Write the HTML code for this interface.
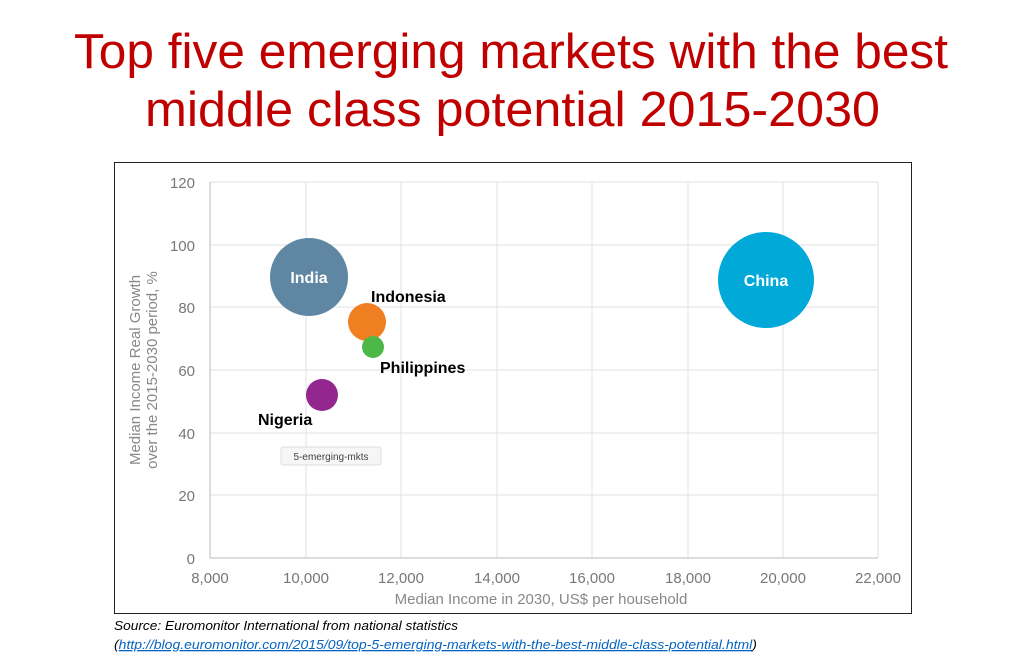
<!DOCTYPE html>
<html><head><meta charset="utf-8"><style>
body{margin:0;width:1023px;height:660px;background:#fff;overflow:hidden;font-family:"Liberation Sans",sans-serif}
</style></head><body>
<svg width="1023" height="660" xmlns="http://www.w3.org/2000/svg" style="position:absolute;left:0;top:0">
<text x="74" y="68" textLength="874" lengthAdjust="spacingAndGlyphs" font-family="Liberation Sans, sans-serif" font-size="49" fill="#c00000">Top five emerging markets with the best</text>
<text x="145" y="126" textLength="735" lengthAdjust="spacingAndGlyphs" font-family="Liberation Sans, sans-serif" font-size="49" fill="#c00000">middle class  potential 2015-2030</text>
<rect x="114.5" y="162.5" width="797" height="451" fill="#fff" stroke="#222" stroke-width="1"/>
<g stroke="#e2e2e2" stroke-width="1">
<line x1="210" y1="182" x2="878" y2="182"/><line x1="210" y1="245" x2="878" y2="245"/><line x1="210" y1="307" x2="878" y2="307"/><line x1="210" y1="370" x2="878" y2="370"/><line x1="210" y1="433" x2="878" y2="433"/><line x1="210" y1="495" x2="878" y2="495"/>
<line x1="306" y1="182" x2="306" y2="558"/><line x1="401" y1="182" x2="401" y2="558"/><line x1="497" y1="182" x2="497" y2="558"/><line x1="592" y1="182" x2="592" y2="558"/><line x1="688" y1="182" x2="688" y2="558"/><line x1="783" y1="182" x2="783" y2="558"/><line x1="878" y1="182" x2="878" y2="558"/>
</g>
<line x1="210" y1="558" x2="878" y2="558" stroke="#bbb"/>
<line x1="210" y1="182" x2="210" y2="558" stroke="#bbb"/>
<g font-size="15" fill="#777" text-anchor="end">
<text x="195" y="188">120</text><text x="195" y="251">100</text><text x="195" y="313">80</text><text x="195" y="376">60</text><text x="195" y="439">40</text><text x="195" y="501">20</text><text x="195" y="564">0</text>
</g>
<g font-size="15" fill="#777" text-anchor="middle">
<text x="210" y="583">8,000</text><text x="306" y="583">10,000</text><text x="401" y="583">12,000</text><text x="497" y="583">14,000</text><text x="592" y="583">16,000</text><text x="688" y="583">18,000</text><text x="783" y="583">20,000</text><text x="878" y="583">22,000</text>
</g>
<text x="541" y="604" text-anchor="middle" font-size="15" fill="#888">Median Income in 2030, US$ per household</text>
<g transform="translate(140,370) rotate(-90)" font-size="15" fill="#888" text-anchor="middle">
<text x="0" y="0">Median Income Real Growth</text><text x="0" y="17">over the 2015-2030 period, %</text>
</g>
<circle cx="309" cy="277" r="39" fill="#5f87a3"/>
<circle cx="766" cy="280" r="48" fill="#00a9d8"/>
<circle cx="367" cy="322" r="19" fill="#f07f22"/>
<circle cx="373" cy="347" r="11" fill="#4db847"/>
<circle cx="322" cy="395" r="16" fill="#93268f"/>
<g font-family="Liberation Sans, sans-serif" font-weight="bold" font-size="16">
<text x="309" y="283" text-anchor="middle" fill="#fff">India</text>
<text x="766" y="286" text-anchor="middle" fill="#fff">China</text>
<text x="371" y="302" fill="#000">Indonesia</text>
<text x="380" y="373" fill="#000">Philippines</text>
<text x="258" y="425" fill="#000">Nigeria</text>
</g>
<rect x="281" y="447" width="100" height="18" rx="2" fill="#f6f6f6" stroke="#ddd"/>
<text x="331" y="460" text-anchor="middle" font-size="10" fill="#444">5-emerging-mkts</text>
<text x="114" y="630" textLength="344" lengthAdjust="spacingAndGlyphs" font-size="13" font-style="italic" fill="#000">Source: Euromonitor International from national statistics</text>
<text x="114" y="649" textLength="643" lengthAdjust="spacingAndGlyphs" font-size="13" font-style="italic" fill="#000">(<tspan fill="#0563c1" text-decoration="underline">http://blog.euromonitor.com/2015/09/top-5-emerging-markets-with-the-best-middle-class-potential.html</tspan>)</text>
</svg>
</body></html>
